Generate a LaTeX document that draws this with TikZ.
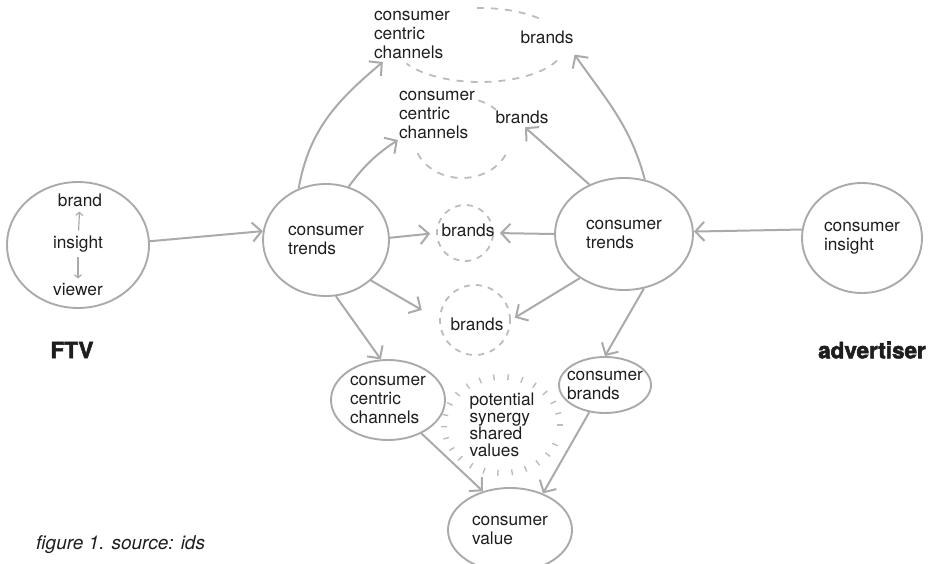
\documentclass[tikz,border=0pt]{standalone}
\usepackage{fontspec}
\setmainfont{TeX Gyre Heros}
\newfontfamily\heavyfont[FakeBold=2.5]{TeX Gyre Heros Bold}
\usetikzlibrary{shapes.geometric,arrows.meta}

\definecolor{sketch}{RGB}{170,170,170}
\definecolor{dashgray}{RGB}{188,188,188}
\definecolor{ink}{RGB}{30,30,30}

\begin{document}
\begin{tikzpicture}[
            x=1pt, y=1pt,
            every node/.style={text=ink, font=\fontsize{17.3}{19}\selectfont, align=left, inner sep=1pt},
            blob/.style={draw=sketch, ellipse, line width=1.9pt, inner sep=0pt},
            ring/.style={draw=dashgray, circle, dash pattern=on 6pt off 6pt, line width=1.8pt, inner sep=0pt},
            dashline/.style={draw=dashgray, dash pattern=on 7pt off 7pt, line width=1.8pt},
            arr/.style={draw=sketch, line width=2pt, -{Straight Barb[length=9pt,width=19pt]}},
            tick/.style={draw=sketch, line width=1.2pt, -{Straight Barb[length=3pt,width=7pt]}, shorten <=4pt, shorten >=4pt},
            tag/.style={font=\fontsize{22.5}{24}\selectfont\heavyfont},
            ]
            \useasboundingbox (0,0) rectangle (937,563);

            % viewer side
            \node[blob, minimum width=142pt, minimum height=126pt] (ftv) at (78,318) {};
            \node (brand) at (80,363) {brand};
            \node (insight) at (78,319) {insight};
            \node (viewer) at (78,273) {viewer};
            \draw[tick] (insight) -- (brand);
            \draw[tick] (insight) -- (viewer);
            \node[tag] (ftvtag) at (72,213) {FTV};

            \node[blob, minimum width=126pt, minimum height=112pt] (trL) at (326,323) {consumer\\trends};
            \node[blob, minimum width=138pt, minimum height=112pt] (trR) at (624,329) {consumer\\trends};
            \node[blob, minimum width=120pt, minimum height=110pt] (ins) at (862,325) {consumer\\insight};
            \node[tag] (adtag) at (872,213) {advertiser};

            % dashed rings in the middle
            \draw[dashline] (480,518) ++(92:85 and 37) arc[start angle=92, end angle=40, x radius=85, y radius=37];
            \draw[dashline] (480,518) ++(-25:85 and 37) arc[start angle=-25, end angle=-150, x radius=85, y radius=37];
            \node (chanA) at (412,528) {consumer\\centric\\channels};
            \node (brA) at (547,526) {brands};

            \draw[dashline] (462,425) ++(70:48 and 40) arc[start angle=70, end angle=45, x radius=48, y radius=40];
            \draw[dashline] (462,425) ++(-25:48 and 40) arc[start angle=-25, end angle=-160, x radius=48, y radius=40];
            \node (chanB) at (437,448) {consumer\\centric\\channels};
            \node (brB) at (522,446) {brands};

            \node[ring, minimum size=56pt] (ringC) at (465,330) {};
            \node (brC) at (468,333) {brands};
            \node[ring, minimum size=70pt] (ringD) at (475,243) {};
            \node (brD) at (477,239) {brands};

            % lower part
            \node[blob, minimum width=114pt, minimum height=80pt] (chanC) at (388,163) {consumer\\centric\\channels};
            \node[blob, minimum width=92pt, minimum height=56pt, inner xsep=-10pt] (cbr) at (605,178) {consumer\\brands};
            \node[font=\fontsize{17.3}{16.8}\selectfont] (syn) at (502,138) {potential\\synergy\\shared\\values};
            \foreach \a in {0,14,...,346}
                \draw[dashgray, line width=1.4pt] (syn.center) ++(\a:55 and 45) -- ++(\a:6);
            \node[blob, minimum width=124pt, minimum height=84pt] (val) at (510,33) {consumer\\value};

            \node[anchor=west, font=\fontsize{19}{21}\selectfont\itshape] (cap) at (35,18) {figure 1. source: ids};

            % connectors
            \draw[arr] (ftv.3) -- (trL.172);
            \draw[arr] (ins.172) -- (trR.2);
            \draw[arr] (trL.118) to[out=80, in=220] ([xshift=10pt,yshift=-2pt]chanA.south west);
            \draw[arr] (trL.67) to[bend left=10] (chanB.south west);
            \draw[arr, shorten >=6pt] (trL.2) -- (ringC.west);
            \draw[arr, shorten >=20pt] (trL.-42) -- (ringD.west);
            \draw[arr] (trL.-80) -- (chanC.100);
            \draw[arr] (trR.69) to[out=105, in=-55] ([yshift=-10pt]brA.south east);
            \draw[arr, shorten >=4pt] (trR.125) -- (brB.south);
            \draw[arr, shorten >=6pt] (trR.west) -- (ringC.east);
            \draw[arr, shorten >=12pt] (trR.-135) -- (brD.east);
            \draw[arr] (trR.-70) -- (cbr.north);
            \draw[arr] (chanC.-45) -- (val.125);
            \draw[arr] (cbr.-120) -- (val.48);
        \end{tikzpicture}
\end{document}
